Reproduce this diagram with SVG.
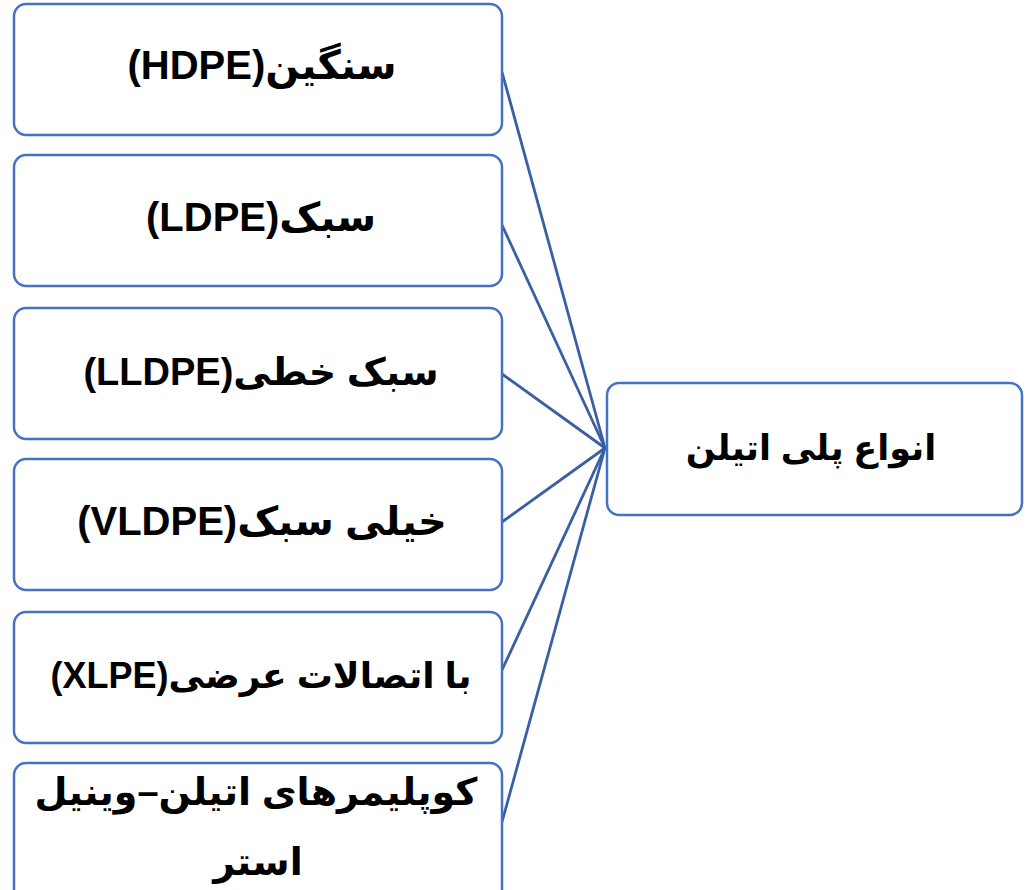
<svg xmlns="http://www.w3.org/2000/svg" width="1026" height="890" viewBox="0 0 1026 890">
<style>
.box{fill:#fff;stroke:#4472C4;stroke-width:2.5}
.con{stroke:#3B5FA3;stroke-width:2.8;fill:none}
.t{font-family:"Liberation Sans","DejaVu Sans",sans-serif;font-weight:bold;font-size:40px;fill:#000;text-anchor:middle;direction:rtl;unicode-bidi:embed}
</style>
<rect width="1026" height="890" fill="#fff"/>
<g id="connectors">
<line class="con" x1="502" y1="72" x2="605" y2="448"/>
<line class="con" x1="502" y1="225" x2="605" y2="448"/>
<line class="con" x1="502" y1="374" x2="605" y2="448"/>
<line class="con" x1="502" y1="522" x2="605" y2="448"/>
<line class="con" x1="502" y1="670" x2="605" y2="448"/>
<line class="con" x1="502" y1="822" x2="605" y2="448"/>
</g>
<g id="n1"><rect class="box" x="14" y="4" width="488" height="131" rx="12"/><text class="t" x="262" y="79">سنگین(HDPE)</text></g>
<g id="n2"><rect class="box" x="14" y="155" width="488" height="131" rx="12"/><text class="t" x="261" y="231">سبک(LDPE)</text></g>
<g id="n3"><rect class="box" x="14" y="308" width="488" height="131" rx="12"/><text class="t" x="261" y="385" style="font-size:38px">سبک خطی(LLDPE)</text></g>
<g id="n4"><rect class="box" x="14" y="459" width="488" height="131" rx="12"/><text class="t" x="262" y="535">خیلی سبک(VLDPE)</text></g>
<g id="n5"><rect class="box" x="14" y="612" width="488" height="131" rx="12"/><text class="t" x="261" y="688" style="font-size:36px">با  اتصالات عرضی(XLPE)</text></g>
<g id="n6"><rect class="box" x="14" y="763" width="488" height="140" rx="12"/><text class="t" x="256" y="805" style="font-size:38px">کوپلیمرهای اتیلن–وینیل</text><text class="t" x="258" y="875" style="font-size:38px">استر</text></g>
<g id="root"><rect class="box" x="607" y="383" width="415" height="132" rx="12"/><text class="t" x="811" y="460" style="font-size:35px">انواع پلی اتیلن</text></g>
</svg>
